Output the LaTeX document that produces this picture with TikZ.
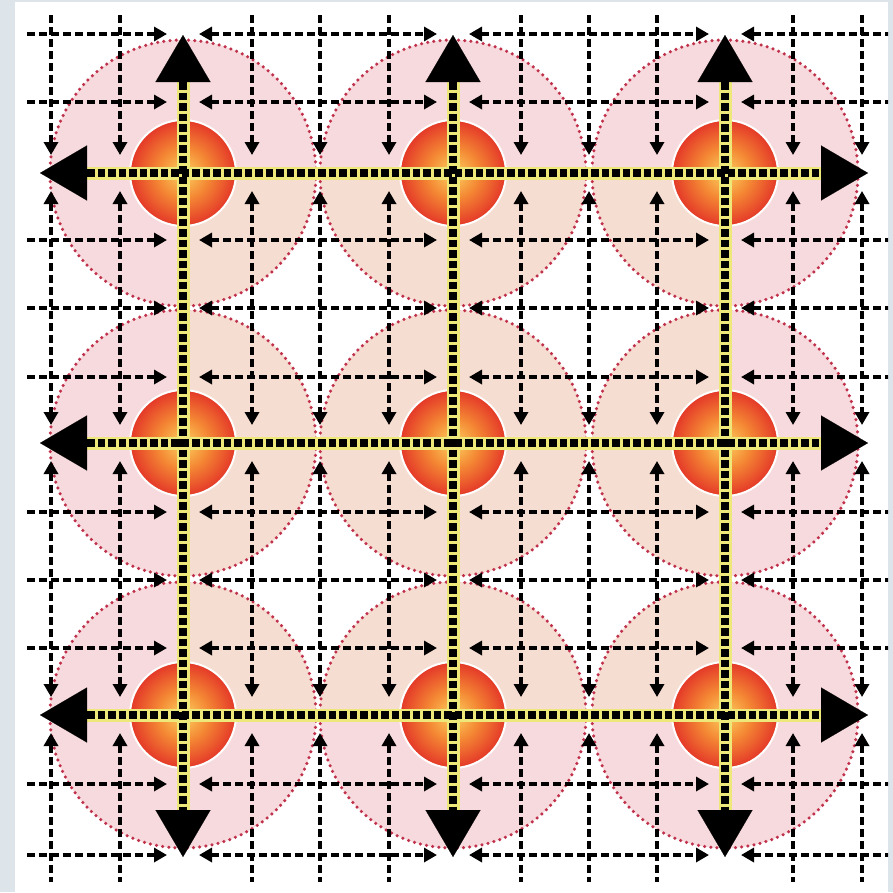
\documentclass[tikz,border=0pt]{standalone}
\usepackage{tikz}
\usetikzlibrary{arrows.meta}

\definecolor{frame}{RGB}{222,229,234}
\definecolor{discpink}{RGB}{247,218,221}
\definecolor{discpeach}{RGB}{246,221,209}
\definecolor{rimred}{RGB}{192,50,76}
\definecolor{bandyel}{RGB}{238,232,122}
\definecolor{sunyel}{RGB}{252,210,96}
\definecolor{sunorg}{RGB}{244,136,52}
\definecolor{sunred}{RGB}{228,56,40}
\pgfdeclareradialshading{sun}{\pgfpoint{0bp}{0bp}}{color(0bp)=(sunyel);
  color(12bp)=(sunorg); color(25bp)=(sunred); color(50bp)=(sunred)}

\begin{document}
\begin{tikzpicture}[x=1pt,y=-1pt,>={Triangle[length=13pt,width=14pt]},
  rim/.style={draw=rimred,line width=3.5pt,dash pattern=on 0pt off 6.2pt,line cap=round},
  gline/.style={line width=3.8pt,dash pattern=on 8pt off 4pt},
  sphere/.style={circle,minimum size=106pt,inner sep=0pt,shading=sun,draw=white,line width=2pt},
  road/.style={line width=13pt,draw=bandyel},
  roaddash/.style={line width=8pt,dash pattern=on 7.5pt off 3pt},
  bigtip/.style={-{Triangle[length=47pt,width=55pt]},line width=0.1pt}]
\useasboundingbox (0,0) rectangle (893,892);
\fill[frame] (0,0) rectangle (893,892);
\fill[white] (15,2) rectangle (888,892);
% discs
\foreach \x in {183,453,725}{\foreach \y in {173,443,715}{
  \fill[discpink] (\x,\y) circle (133);}}
\begin{scope}
  \clip (183,173) rectangle (725,715);
  \foreach \x in {183,453,725}{\foreach \y in {173,443,715}{
    \fill[discpeach] (\x,\y) circle (133);}}
\end{scope}
\foreach \x in {183,453,725}{\foreach \y in {173,443,715}{
  \draw[rim] (\x,\y) circle (133);}}
% grid
\begin{scope}
  \clip (15,2) rectangle (888,892);
  \foreach \y in {34,102,240,308,377,512,580,648,784,855}{
    \draw[gline,->] (27,\y) -- (167,\y);
    \draw[gline,<->] (199,\y) -- (437,\y);
    \draw[gline,<->] (469,\y) -- (709,\y);
    \draw[gline,<-] (741,\y) -- (893,\y);
  }
  \foreach \x in {51,120,252,320,389,521,589,657,793,862}{
    \draw[gline,->] (\x,15) -- (\x,155);
    \draw[gline,<->] (\x,191) -- (\x,425);
    \draw[gline,<->] (\x,461) -- (\x,697);
    \draw[gline,<-] (\x,733) -- (\x,882);
  }
\end{scope}
% spheres
\foreach \i/\x in {1/183,2/453,3/725}{\foreach \j/\y in {1/173,2/443,3/715}{
  \node[sphere] (s\i\j) at (\x,\y) {};}}
% yellow lines
\foreach \k/\p/\q in {1/183/173,2/453/443,3/725/715}{
  \coordinate (nt\k) at (\p,35);
  \coordinate (nb\k) at (\p,82);
  \coordinate (sb\k) at (\p,810);
  \coordinate (st\k) at (\p,857);
  \coordinate (wt\k) at (40,\q);
  \coordinate (wb\k) at (87,\q);
  \coordinate (eb\k) at (821,\q);
  \coordinate (et\k) at (868,\q);
}
\foreach \k in {1,2,3}{
  \draw[road] (nb\k) -- (sb\k);
  \draw[road] (wb\k) -- (eb\k);
}
\foreach \k in {1,2,3}{
  \draw[roaddash] (nb\k) -- (sb\k);
  \draw[roaddash] (wb\k) -- (eb\k);
  \draw[bigtip] (nb\k) -- (nt\k);
  \draw[bigtip] (sb\k) -- (st\k);
  \draw[bigtip] (wb\k) -- (wt\k);
  \draw[bigtip] (eb\k) -- (et\k);
}
\end{tikzpicture}
\end{document}
